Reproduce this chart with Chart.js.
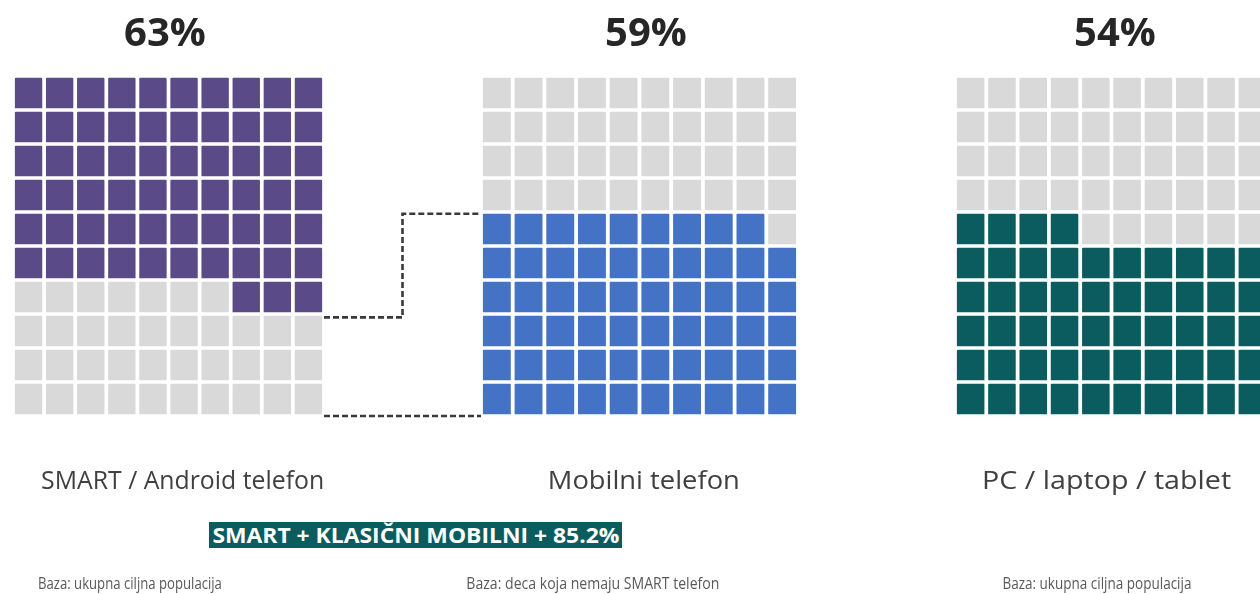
<!DOCTYPE html>
<html>
<head>
<meta charset="utf-8">
<script src="https://cdn.jsdelivr.net/npm/chart.js@4.4.0/dist/chart.umd.min.js"></script>
<style>
  body { margin: 0; width: 1260px; height: 594px; overflow: hidden; background: #fff; position: relative; font-family: "Open Sans", sans-serif; }
  .abs { position: absolute; white-space: nowrap; line-height: 1; transform-origin: center; }
  .pct { font-weight: 700; font-size: 40px; color: #262626; }
  .lbl { font-size: 25px; color: #404040; }
  .base { font-size: 17px; color: #595959; }
  .note { background: #0b5c5e; color: #fff; font-weight: 700; font-size: 21px; height: 26px; line-height: 26px; text-align: center; overflow: hidden; }
  .note span { display: inline-block; transform-origin: center; }
  canvas.waffle { position: absolute; }
  #links { position: absolute; left: 0; top: 0; pointer-events: none; }
</style>
</head>
<body>
<canvas id="links" width="1260" height="594"></canvas>
<script>
// data
const categories = ['SMART / Android telefon', 'Mobilni telefon', 'PC / laptop / tablet'];
const shares = [63, 59, 54];
const shareLabels = ['63%', '59%', '54%'];
const fillFromTop = [true, false, false];
const colors = ['#5b4a88', '#4472c4', '#0b5c5e'];
const bases = ['Baza: ukupna ciljna populacija', 'Baza: deca koja nemaju SMART telefon', 'Baza: ukupna ciljna populacija'];
const combinedNote = 'SMART + KLASIČNI MOBILNI + 85.2%';
const columns = ['1', '2', '3', '4', '5', '6', '7', '8', '9', '10'];
const rows = [0, 1, 2, 3, 4, 5, 6, 7, 8, 9];

// where each waffle and its texts sit on the page
const boxes = [
  { left: 13, top: 76, width: 311, height: 340, title: 165, label: 183, labelW: 283, base: 130, baseW: 184 },
  { left: 481, top: 76, width: 317, height: 340, title: 646, label: 644, labelW: 192, base: 593, baseW: 253 },
  { left: 955, top: 76, width: 313, height: 340, title: 1115, label: 1107, labelW: 249, base: 1097, baseW: 189 }
];

// place a text centred on cx; squeeze it to width w if given
function addText(cls, text, cx, top, w) {
  const el = document.createElement('div');
  el.className = 'abs ' + cls;
  el.textContent = text;
  el.style.top = top + 'px';
  document.body.appendChild(el);
  const nat = el.getBoundingClientRect().width;
  el.style.left = (cx - nat / 2) + 'px';
  if (w) el.style.transform = 'scaleX(' + (w / nat) + ')';
  return el;
}

function cellColor(i, r, c) {
  const k = r * 10 + c;
  const on = fillFromTop[i] ? k >= 100 - shares[i] : k < shares[i];
  return on ? colors[i] : '#d9d9d9';
}

const charts = boxes.map((b, i) => {
  addText('pct', shareLabels[i], b.title, 11);
  addText('lbl', categories[i], b.label, 467, b.labelW);
  addText('base', bases[i], b.base, 574, b.baseW);

  const cv = document.createElement('canvas');
  cv.className = 'waffle';
  cv.width = b.width;
  cv.height = b.height;
  cv.style.left = b.left + 'px';
  cv.style.top = b.top + 'px';
  document.body.appendChild(cv);

  return new Chart(cv.getContext('2d'), {
    type: 'bar',
    data: {
      labels: columns,
      datasets: rows.map(r => ({
        data: columns.map(() => [r + 0.05, r + 0.95]),
        backgroundColor: columns.map((_, c) => cellColor(i, r, c)),
        barPercentage: 0.88,
        categoryPercentage: 1,
        grouped: false,
        borderRadius: 1
      }))
    },
    options: {
      responsive: false,
      animation: false,
      layout: { padding: 0 },
      plugins: { legend: { display: false }, tooltip: { enabled: false } },
      scales: {
        x: { display: false },
        y: { display: false, min: 0, max: 10 }
      }
    }
  });
});

// the teal note under the first two waffles
const note = document.createElement('div');
note.className = 'abs note';
note.style.left = '209px';
note.style.top = '522px';
note.style.width = '413px';
const span = document.createElement('span');
span.textContent = combinedNote;
note.appendChild(span);
document.body.appendChild(note);
const sw = span.getBoundingClientRect().width;
span.style.transform = 'scaleX(' + (407 / sw) + ')';

// dashed connectors between the first and second waffle
const ctx = document.getElementById('links').getContext('2d');
const a = charts[0], m = charts[1];
const x0 = boxes[0].left + a.chartArea.right;
const x1 = boxes[1].left + m.chartArea.left;
const xm = (x0 + x1) / 2;
const yLeft = boxes[0].top + a.scales.y.getPixelForValue(Math.floor((100 - shares[0]) / 10) - 0.1);
const yMid = boxes[1].top + m.scales.y.getPixelForValue(Math.ceil(shares[1] / 10) - 0.05);
const yBottom = boxes[0].top + a.scales.y.getPixelForValue(0);
ctx.strokeStyle = '#3a3a3a';
ctx.lineWidth = 2.6;
ctx.setLineDash([6, 3]);
ctx.beginPath();
ctx.moveTo(x0, yLeft);
ctx.lineTo(xm, yLeft);
ctx.lineTo(xm, yMid);
ctx.lineTo(x1, yMid);
ctx.moveTo(x0, yBottom);
ctx.lineTo(x1, yBottom);
ctx.stroke();
</script>
</body>
</html>
